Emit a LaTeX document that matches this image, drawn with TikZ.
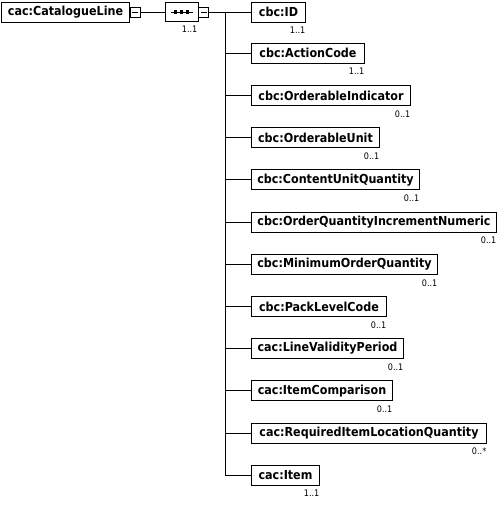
\documentclass[tikz,border=0pt]{standalone}
\usepackage{fontspec}
\setmainfont{DejaVu Sans Condensed}
\usepackage{tikz}
\usetikzlibrary{positioning, shapes.misc}

\begin{document}
\begin{tikzpicture}[
    x=1pt, y=-1pt,
    every node/.style={text=black},
    elem/.style={
      rectangle, draw=black, fill=white, line width=1pt,
      minimum height=20pt, inner sep=0pt, anchor=west,
      font=\bfseries\fontsize{12.4}{14}\selectfont
    },
    minusbox/.style={
      rectangle, draw=black, fill=white, line width=0.8pt,
      minimum width=10pt, minimum height=10pt, inner sep=0pt, anchor=west
    },
    seqbox/.style={
      chamfered rectangle, chamfered rectangle xsep=4pt, chamfered rectangle ysep=4pt,
      draw=black, fill=white, line width=0.8pt,
      minimum width=33pt, minimum height=19pt, inner sep=0pt
    },
    card/.style={font=\fontsize{9}{10}\selectfont, anchor=north east, inner sep=0.5pt},
    link/.style={draw=black, line width=0.9pt}
  ]
    \useasboundingbox (0,0) rectangle (501,507);

    % root element and its sequence
    \node[elem, minimum width=128pt] (root) at (1,12) {cac:CatalogueLine};
    \node[minusbox] (rootm) at (root.east) {};
    \node[seqbox] (seq) at (181.5,12) {};
    \node[minusbox] (seqm) at (seq.east) {};
    \node[card] (seqcard) at ([yshift=-4pt]seq.south east) {1..1};
    \coordinate (trunk) at (225,12);

    % minus signs and sequence dots
    \draw[line width=0.8pt] ([xshift=-3pt]rootm.center) -- ([xshift=3pt]rootm.center);
    \draw[line width=0.8pt] ([xshift=-3pt]seqm.center) -- ([xshift=3pt]seqm.center);
    \draw[line width=0.8pt] ([xshift=-11pt]seq.center) -- ([xshift=11pt]seq.center);
    \fill ([xshift=-6pt]seq.center) +(-1.6,-1.6) rectangle +(1.6,1.6);
    \fill (seq.center) +(-1.6,-1.6) rectangle +(1.6,1.6);
    \fill ([xshift=6pt]seq.center) +(-1.6,-1.6) rectangle +(1.6,1.6);

    % child elements
    \node[elem, minimum width=54pt]  (id)       at (251,12.0)  {cbc:ID};
    \node[elem, minimum width=113pt] (action)   at (251,53.2)  {cbc:ActionCode};
    \node[elem, minimum width=159pt] (orderind) at (251,95.4)  {cbc:OrderableIndicator};
    \node[elem, minimum width=128pt] (orderunit) at (251,137.6) {cbc:OrderableUnit};
    \node[elem, minimum width=168pt] (content)  at (251,179.8) {cbc:ContentUnitQuantity};
    \node[elem, minimum width=245pt] (increment) at (251,222.0) {cbc:OrderQuantityIncrementNumeric};
    \node[elem, minimum width=186pt] (minimum)  at (251,264.2) {cbc:MinimumOrderQuantity};
    \node[elem, minimum width=135pt] (pack)     at (251,306.4) {cbc:PackLevelCode};
    \node[elem, minimum width=152pt] (validity) at (251,348.6) {cac:LineValidityPeriod};
    \node[elem, minimum width=141pt] (compare)  at (251,390.8) {cac:ItemComparison};
    \node[elem, minimum width=235pt] (location) at (251,433.0) {cac:RequiredItemLocationQuantity};
    \node[elem, minimum width=68pt]  (item)     at (251,475.2) {cac:Item};

    % cardinalities
    \node[card] (idcard)        at ([yshift=-4pt]id.south east)        {1..1};
    \node[card] (actioncard)    at ([yshift=-4pt]action.south east)    {1..1};
    \node[card] (orderindcard)  at ([yshift=-4pt]orderind.south east)  {0..1};
    \node[card] (orderunitcard) at ([yshift=-4pt]orderunit.south east) {0..1};
    \node[card] (contentcard)   at ([yshift=-4pt]content.south east)   {0..1};
    \node[card] (incrementcard) at ([yshift=-4pt]increment.south east) {0..1};
    \node[card] (minimumcard)   at ([yshift=-4pt]minimum.south east)   {0..1};
    \node[card] (packcard)      at ([yshift=-4pt]pack.south east)      {0..1};
    \node[card] (validitycard)  at ([yshift=-4pt]validity.south east)  {0..1};
    \node[card] (comparecard)   at ([yshift=-4pt]compare.south east)   {0..1};
    \node[card] (locationcard)  at ([yshift=-4pt]location.south east)  {0..*};
    \node[card] (itemcard)      at ([yshift=-4pt]item.south east)      {1..1};

    % connectors
    \draw[link] (rootm.east) -- (seq.west);
    \draw[link] (seqm.east) -- (id.west);
    \draw[link] (trunk) |- (action.west);
    \draw[link] (trunk) |- (orderind.west);
    \draw[link] (trunk) |- (orderunit.west);
    \draw[link] (trunk) |- (content.west);
    \draw[link] (trunk) |- (increment.west);
    \draw[link] (trunk) |- (minimum.west);
    \draw[link] (trunk) |- (pack.west);
    \draw[link] (trunk) |- (validity.west);
    \draw[link] (trunk) |- (compare.west);
    \draw[link] (trunk) |- (location.west);
    \draw[link] (trunk) |- (item.west);
\end{tikzpicture}
\end{document}
